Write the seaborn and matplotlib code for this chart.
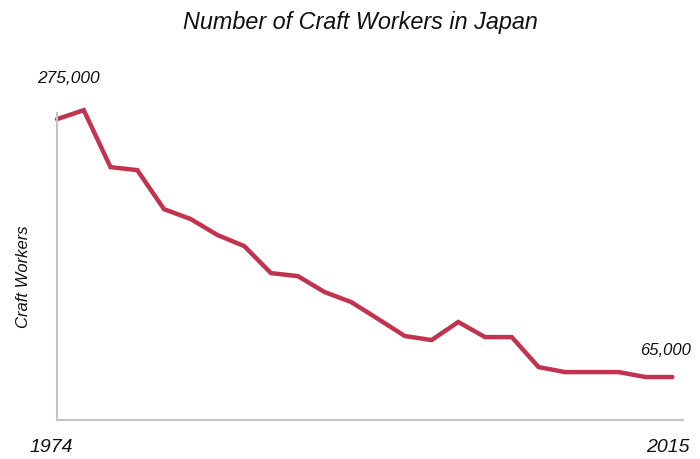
import matplotlib
matplotlib.use("Agg")
import matplotlib.pyplot as plt
import seaborn as sns
import pandas as pd

# survey points (first = 1974, last = 2015)
survey_index = list(range(24))
workers = [275000, 282300, 235900, 233500, 201700, 193600, 180600, 171600,
           149600, 147200, 134200, 126000, 112300, 98400, 95100, 109800,
           97500, 97500, 73100, 69000, 69000, 69000, 65000, 65000]
first_year, last_year = "1974", "2015"
first_label, last_label = "275,000", "65,000"

df = pd.DataFrame({"idx": survey_index, "workers": workers})

sns.set_style("white")
plt.rcParams["font.family"] = ["Liberation Sans", "DejaVu Sans"]

fig = plt.figure(figsize=(7, 4.59), dpi=100)
ax = fig.add_axes([57 / 700, 39 / 459, 626 / 700, 307 / 459])

sns.lineplot(data=df, x="idx", y="workers", ax=ax, color="#c2334f",
             linewidth=3.2, solid_joinstyle="miter")
for l in ax.lines:
    l.set_clip_on(False)

ax.set_xlim(0, 23.4)
ax.set_ylim(30000, 280000)
ax.set_xticks([])
ax.set_yticks([])
ax.set_xlabel("")
ax.set_ylabel("")
sns.despine(ax=ax)
for side in ["left", "bottom"]:
    ax.spines[side].set_color("#c4c4c4")
    ax.spines[side].set_linewidth(1.5)

ax.annotate(first_label, xy=(survey_index[0], workers[0]), xytext=(8, 29),
            textcoords="offset points", ha="center", va="center",
            fontsize=12.5, style="italic", color="#111111")
ax.annotate(last_label, xy=(survey_index[-1], workers[-1]), xytext=(-5, 19),
            textcoords="offset points", ha="center", va="center",
            fontsize=12, style="italic", color="#111111")

fig.text(360 / 700, 1 - 22 / 459, "Number of Craft Workers in Japan",
         ha="center", va="center", fontsize=16.8, style="italic", color="#111111")
fig.text(24 / 700, 1 - 277 / 459, "Craft Workers", rotation=90,
         ha="center", va="center", fontsize=12, style="italic", color="#111111")
fig.text(51 / 700, 1 - 448 / 459, first_year, ha="center", va="center",
         fontsize=14, style="italic", color="#111111")
fig.text(668 / 700, 1 - 448 / 459, last_year, ha="center", va="center",
         fontsize=14, style="italic", color="#111111")

fig.savefig("out.png", dpi=100)
